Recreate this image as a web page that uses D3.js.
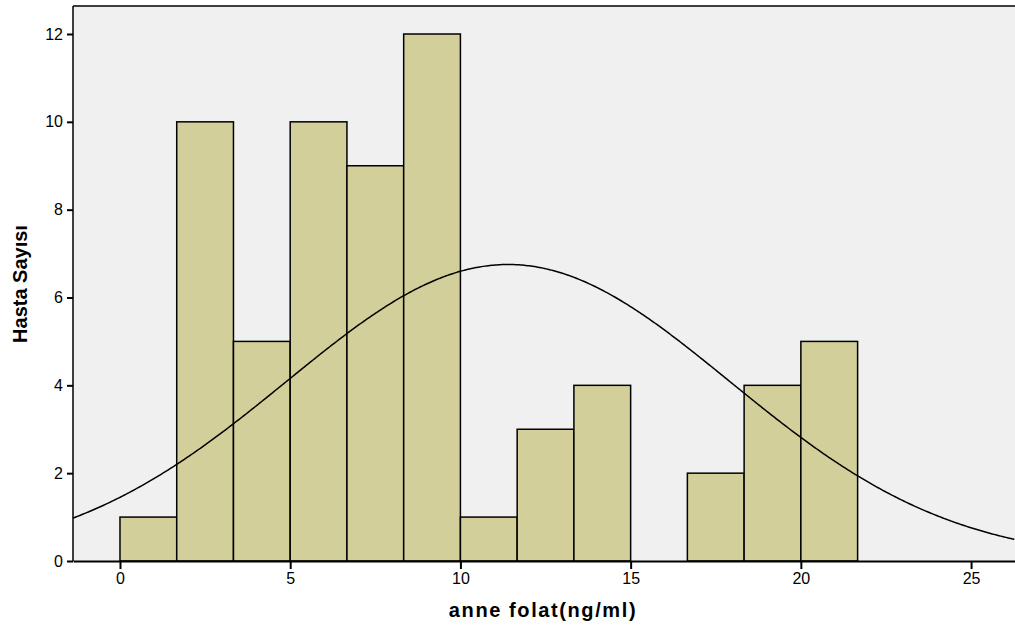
<!DOCTYPE html>
<html lang="tr">
<head>
<meta charset="UTF-8">
<script src="https://d3js.org/d3.v7.min.js"></script>
<style>
  body { margin: 0; background: #fff; }
  text { font-family: "Liberation Sans", Arial, sans-serif; }
</style>
</head>
<body>
<div id="chart"></div>
<script>
// histogram bins (ng/ml) and counts
const binEdges = [0, 5/3, 10/3, 5, 20/3, 25/3, 10, 35/3, 40/3, 15, 50/3, 55/3, 20, 65/3]
const counts = [1, 10, 5, 10, 9, 12, 1, 3, 4, 0, 2, 4, 5]
const xTicks = [0, 5, 10, 15, 20, 25]
const yTicks = [0, 2, 4, 6, 8, 10, 12]
// fitted normal curve parameters
const curveMean = 11.4
const curveSd = 6.5

const width = 1015, height = 631
const margin = {left: 73, top: 6, right: 0, bottom: 70}

const svg = d3.select("#chart").append("svg")
    .attr("width", width)
    .attr("height", height)

const x = d3.scaleLinear()
    .domain([-1.38, 26.29])
    .range([margin.left, width - margin.right])

const y = d3.scaleLinear()
    .domain([0, 12])
    .range([561, 34])

// plot background
svg.append("rect")
    .attr("x", margin.left)
    .attr("y", margin.top)
    .attr("width", width - margin.left)
    .attr("height", y(0) - margin.top)
    .attr("fill", "#f0f0f0")

const bins = counts.map((c, i) => ({x0: binEdges[i], x1: binEdges[i + 1], n: c}))

svg.append("g")
    .selectAll("rect")
    .data(bins.filter(d => d.n > 0))
    .enter()
    .append("rect")
        .attr("x", d => x(d.x0))
        .attr("y", d => y(d.n))
        .attr("width", d => x(d.x1) - x(d.x0))
        .attr("height", d => y(0) - y(d.n))
        .attr("fill", "#d3cf9a")
        .attr("stroke", "#000")
        .attr("stroke-width", 1.5)

// normal curve
const total = d3.sum(counts)
const binWidth = binEdges[1] - binEdges[0]
const xs = d3.range(-1.38, 26.3, 0.05)
const line = d3.line()
    .x(d => x(d))
    .y(d => y(total * binWidth / (curveSd * Math.sqrt(2 * Math.PI)) *
        Math.exp(-Math.pow(d - curveMean, 2) / (2 * curveSd * curveSd))))

svg.append("path")
    .datum(xs)
    .attr("d", line)
    .attr("fill", "none")
    .attr("stroke", "#000")
    .attr("stroke-width", 1.5)

// top frame line
svg.append("line")
    .attr("x1", margin.left).attr("x2", width)
    .attr("y1", margin.top).attr("y2", margin.top)
    .attr("stroke", "#000").attr("stroke-width", 1.5)

// axes
const xAxis = svg.append("g")
    .attr("transform", "translate(0," + y(0) + ")")
    .call(d3.axisBottom(x).tickValues(xTicks).tickSize(8).tickPadding(4).tickSizeOuter(0))
xAxis.select(".domain").attr("stroke-width", 2)
xAxis.selectAll(".tick line").attr("stroke-width", 2)
xAxis.selectAll("text")
    .style("font-size", "16px")
    .attr("fill", "#000")

const yAxis = svg.append("g")
    .attr("transform", "translate(" + margin.left + ",0)")
    .call(d3.axisLeft(y).tickValues(yTicks).tickSize(6).tickPadding(4).tickSizeOuter(0))
yAxis.select(".domain").attr("d", "M0," + margin.top + "V" + y(0)).attr("stroke-width", 1.5)
yAxis.selectAll(".tick line").attr("stroke-width", 2)
yAxis.selectAll("text")
    .style("font-size", "16px")
    .attr("fill", "#000")

// axis titles
svg.append("text")
    .attr("x", 543)
    .attr("y", 617)
    .attr("text-anchor", "middle")
    .style("font-size", "20px")
    .style("font-weight", "bold")
    .style("letter-spacing", "1.6px")
    .text("anne folat(ng/ml)")

svg.append("text")
    .attr("transform", "translate(27,284) rotate(-90)")
    .attr("text-anchor", "middle")
    .style("font-family", "'Liberation Sans Narrow', 'Liberation Sans', sans-serif")
    .style("font-size", "20px")
    .style("font-weight", "bold")
    .text("Hasta Sayısı")
</script>
</body>
</html>
